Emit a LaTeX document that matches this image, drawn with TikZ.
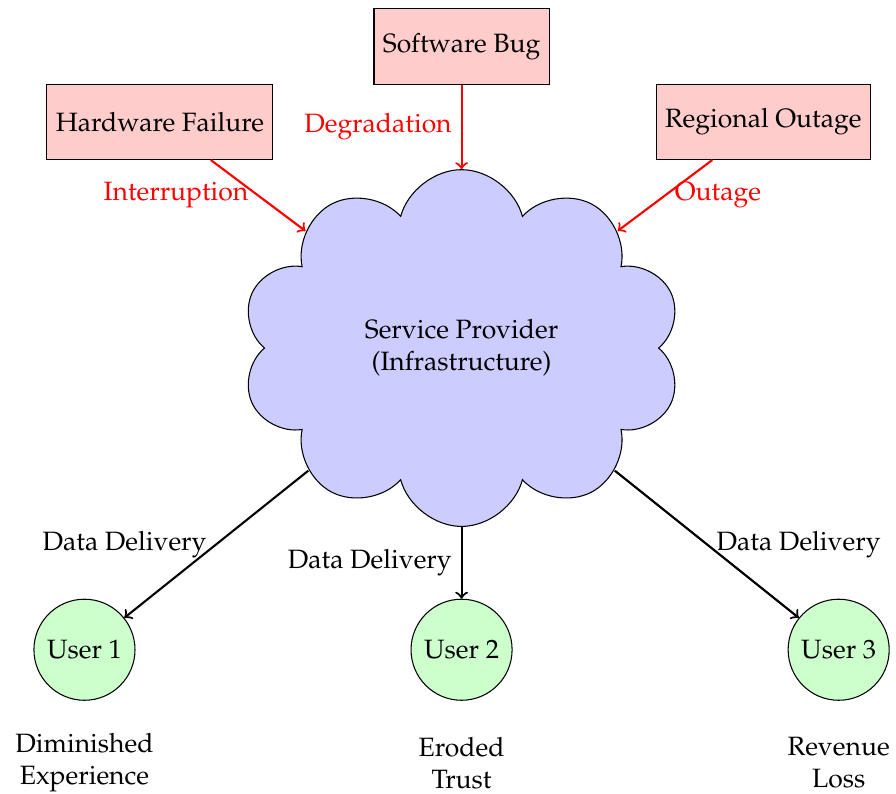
\documentclass[tikz,border=0pt]{standalone}
\IfFileExists{mathpazo.sty}
  {\usepackage[T1]{fontenc}\usepackage{mathpazo}}
  {\usepackage{fontspec}\setmainfont{Liberation Serif}}
\usetikzlibrary{shapes.symbols}

\tikzset{
  cause/.style={draw, fill=red!20, minimum height=1cm},
  provider/.style={cloud, cloud puffs=10, draw, fill=blue!20, align=center,
    minimum width=5.84cm, minimum height=4.73cm},
  user/.style={circle, draw, fill=green!20, minimum size=1.34cm},
  outcome/.style={align=center},
  faultarrow/.style={->, thick, red},
  deliver/.style={->, thick},
}

\begin{document}
\begin{tikzpicture}
  \useasboundingbox (-6.12,-5.90) rectangle (5.76,4.615);

  % central provider
  \node[provider] (sp) at (0,0) {Service Provider\\(Infrastructure)};

  % failure sources
  \node[cause] (hw) at (-4,3) {Hardware Failure};
  \node[cause] (sw) at (0,4) {Software Bug};
  \node[cause] (ro) at (4,3) {Regional Outage};

  % users
  \node[user] (u1) at (-5,-4) {User 1};
  \node[user] (u2) at (0,-4) {User 2};
  \node[user] (u3) at (5,-4) {User 3};

  % consequences
  \node[outcome] (o1) at (-5,-5.5) {Diminished\\Experience};
  \node[outcome] (o2) at (0,-5.5) {Eroded\\Trust};
  \node[outcome] (o3) at (5,-5.5) {Revenue\\Loss};

  % failures hitting the provider
  \draw[faultarrow] (hw) -- node[left] {Interruption} (sp);
  \draw[faultarrow] (sw) -- node[left] {Degradation} (sp);
  \draw[faultarrow] (ro) -- node[right] {Outage} (sp);

  % delivery to users
  \draw[deliver] (sp) -- node[left] {Data Delivery} (u1);
  \draw[deliver] (sp) -- node[left] {Data Delivery} (u2);
  \draw[deliver] (sp) -- node[right] {Data Delivery} (u3);
\end{tikzpicture}
\end{document}
